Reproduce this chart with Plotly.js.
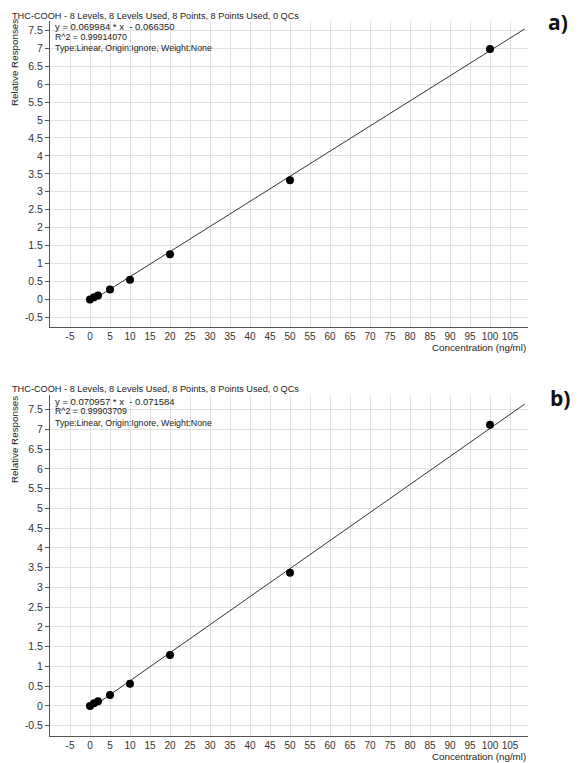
<!DOCTYPE html>
<html>
<head>
<meta charset="utf-8">
<script src="https://cdn.plot.ly/plotly-3.0.1.min.js"></script>
<style>
  html, body { margin: 0; padding: 0; background: #fff; }
  #chart { width: 579px; height: 763px; }
</style>
</head>
<body>
<div id="chart"></div>
<script>
// калибровочные уровни (ng/ml)
var levels = [0, 1, 2, 5, 10, 20, 50, 100];
// отклики, панель a) и b)
var respA = [0.0, 0.06, 0.11, 0.28, 0.55, 1.26, 3.32, 6.98];
var respB = [0.0, 0.07, 0.12, 0.28, 0.56, 1.29, 3.37, 7.12];
// коэффициенты линейной аппроксимации
var fitA = { slope: 0.069984, icpt: -0.066350, r2: '0.99914070' };
var fitB = { slope: 0.070957, icpt: -0.071584, r2: '0.99903709' };
var fitRange = [0, 108.7];
var xTicks = [-5, 0, 5, 10, 15, 20, 25, 30, 35, 40, 45, 50, 55, 60, 65, 70, 75, 80, 85, 90, 95, 100, 105];
var yTicks = [-0.5, 0, 0.5, 1, 1.5, 2, 2.5, 3, 3.5, 4, 4.5, 5, 5.5, 6, 6.5, 7, 7.5];
var title = 'THC-COOH - 8 Levels, 8 Levels Used, 8 Points, 8 Points Used, 0 QCs';

var W = 579, H = 763;
var mL = 50, mR = 51, mT = 21, mB = 27;
var ph = H - mT - mB;
function py(px) { return (H - mB - px) / ph; } // пиксель -> доля
function pxX(px) { return (px - mL) / (W - mL - mR); }

function fitLine(f, xa, ya) {
  return {
    x: fitRange,
    y: fitRange.map(function (v) { return f.slope * v + f.icpt; }),
    xaxis: xa, yaxis: ya,
    type: 'scatter', mode: 'lines',
    line: { color: '#333', width: 1 },
    hoverinfo: 'skip'
  };
}
function points(r, xa, ya) {
  return {
    x: levels, y: r,
    xaxis: xa, yaxis: ya,
    type: 'scatter', mode: 'markers',
    marker: { color: '#000', size: 8 }
  };
}

var data = [
  fitLine(fitA, 'x', 'y'), points(respA, 'x', 'y'),
  fitLine(fitB, 'x2', 'y2'), points(respB, 'x2', 'y2')
];

var ff = 'Liberation Sans, Arial, sans-serif';
var tickFont = { family: ff, size: 10, color: '#333' };
function xax(anchor) {
  return {
    anchor: anchor, range: [-10, 109.5],
    tickmode: 'array', tickvals: xTicks, ticktext: xTicks.map(String), tickangle: 0,
    showgrid: true, gridcolor: '#e0e0e0', gridwidth: 1,
    zeroline: false, showline: true, linecolor: '#555', linewidth: 1,
    ticks: '', tickfont: tickFont, fixedrange: true
  };
}
function yax(anchor, dom, rng) {
  return {
    anchor: anchor, domain: dom, range: rng,
    tickmode: 'array', tickvals: yTicks, ticktext: yTicks.map(String),
    showgrid: true, gridcolor: '#e0e0e0', gridwidth: 1,
    zeroline: false, showline: true, linecolor: '#555', linewidth: 1,
    ticks: 'outside', ticklen: 4, tickcolor: '#555',
    tickfont: { family: ff, size: 10.5, color: '#333' }, fixedrange: true
  };
}

var eqFont = { family: ff, size: 9.5, color: '#222' };
var small = { family: ff, size: 8.8, color: '#222' };
var ttlFont = { family: ff, size: 9.2, color: '#222' };
var axFont = { family: ff, size: 9.8, color: '#222' };
var labFont = { family: 'Open Sans, DejaVu Sans, sans-serif', size: 21, color: '#111', weight: 'bold' };

function note(text, xpx, ypx, font, extra) {
  var a = {
    text: text, xref: 'paper', yref: 'paper',
    x: pxX(xpx), y: py(ypx), xanchor: 'left', yanchor: 'middle',
    showarrow: false, font: font
  };
  for (var k in extra) a[k] = extra[k];
  return a;
}

var annotations = [
  note(title, 10, 16, ttlFont),
  note('y = ' + fitA.slope.toFixed(6) + ' * x  - ' + Math.abs(fitA.icpt).toFixed(6), 53, 27, eqFont),
  note('R^2 = ' + fitA.r2, 53, 36.5, small),
  note('Type:Linear, Origin:Ignore, Weight:None', 53, 47.5, small),
  note('Relative Responses', 14, 63, axFont, { xanchor: 'center', textangle: -90 }),
  note('Concentration (ng/ml)', 528, 347.5, axFont, { xanchor: 'right' }),
  note('a)', 558, 22, labFont, { xanchor: 'center' }),

  note(title, 10, 389, ttlFont),
  note('y = ' + fitB.slope.toFixed(6) + ' * x  - ' + Math.abs(fitB.icpt).toFixed(6), 53, 401.5, eqFont),
  note('R^2 = ' + fitB.r2, 53, 411, small),
  note('Type:Linear, Origin:Ignore, Weight:None', 53, 423, small),
  note('Relative Responses', 14, 440, axFont, { xanchor: 'center', textangle: -90 }),
  note('Concentration (ng/ml)', 528, 757, axFont, { xanchor: 'right' }),
  note('b)', 560, 398, labFont, { xanchor: 'center' })
];

var layout = {
  width: W, height: H,
  margin: { l: mL, r: mR, t: mT, b: mB },
  paper_bgcolor: '#fff', plot_bgcolor: '#fff',
  showlegend: false,
  xaxis: xax('y'),
  yaxis: yax('x', [py(326.7), 1], [-0.76, 7.76]),
  xaxis2: xax('y2'),
  yaxis2: yax('x2', [0, py(395)], [-0.76, 7.87]),
  annotations: annotations
};

Plotly.newPlot('chart', data, layout, { displayModeBar: false, staticPlot: true });
</script>
</body>
</html>
